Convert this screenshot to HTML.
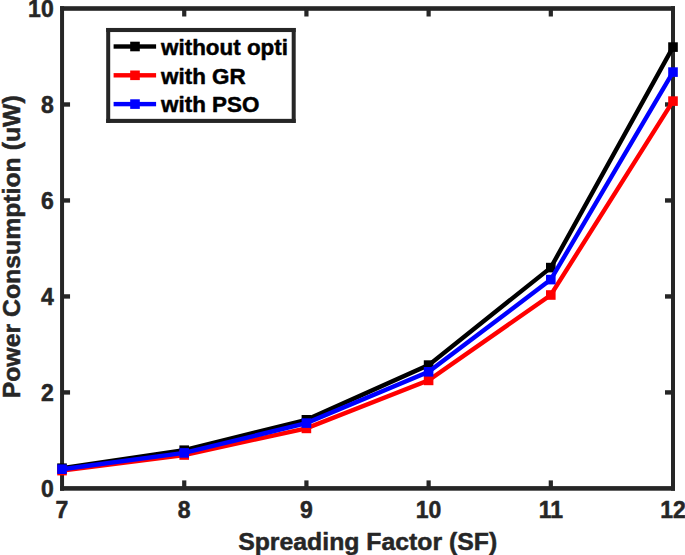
<!DOCTYPE html>
<html><head><meta charset="utf-8"><style>
html,body{margin:0;padding:0;background:#fff;}
body{width:685px;height:555px;overflow:hidden;}
svg{display:block;}
text{font-family:"Liberation Sans",sans-serif;font-weight:bold;fill:#262626;stroke:#262626;stroke-width:0.5px;stroke-linejoin:round;}
</style></head><body>
<svg width="685" height="555" viewBox="0 0 685 555">
<rect width="685" height="555" fill="#fff"/>
<rect x="60.05" y="486.10" width="614.95" height="4.6" fill="#262626"/>
<rect x="60.05" y="6.20" width="614.95" height="4.6" fill="#262626"/>
<rect x="60.05" y="6.20" width="4.0" height="484.50" fill="#262626"/>
<rect x="671.00" y="6.20" width="4.0" height="484.50" fill="#262626"/>
<text x="62.0" y="518.4" font-size="23.0" text-anchor="middle">7</text>
<rect x="182.14" y="480.40" width="4.2" height="8.00" fill="#262626"/>
<rect x="182.14" y="8.50" width="4.2" height="8.00" fill="#262626"/>
<text x="184.2" y="518.4" font-size="23.0" text-anchor="middle">8</text>
<rect x="304.33" y="480.40" width="4.2" height="8.00" fill="#262626"/>
<rect x="304.33" y="8.50" width="4.2" height="8.00" fill="#262626"/>
<text x="306.4" y="518.4" font-size="23.0" text-anchor="middle">9</text>
<rect x="426.52" y="480.40" width="4.2" height="8.00" fill="#262626"/>
<rect x="426.52" y="8.50" width="4.2" height="8.00" fill="#262626"/>
<text x="428.6" y="518.4" font-size="23.0" text-anchor="middle">10</text>
<rect x="548.71" y="480.40" width="4.2" height="8.00" fill="#262626"/>
<rect x="548.71" y="8.50" width="4.2" height="8.00" fill="#262626"/>
<text x="550.8" y="518.4" font-size="23.0" text-anchor="middle">11</text>
<text x="673.0" y="518.4" font-size="23.0" text-anchor="middle">12</text>
<text x="53.7" y="497.1" font-size="23.0" text-anchor="end">0</text>
<rect x="62.05" y="390.22" width="8.00" height="4.4" fill="#262626"/>
<rect x="665.00" y="390.22" width="8.00" height="4.4" fill="#262626"/>
<text x="53.7" y="401.1" font-size="23.0" text-anchor="end">2</text>
<rect x="62.05" y="294.24" width="8.00" height="4.4" fill="#262626"/>
<rect x="665.00" y="294.24" width="8.00" height="4.4" fill="#262626"/>
<text x="53.7" y="305.1" font-size="23.0" text-anchor="end">4</text>
<rect x="62.05" y="198.26" width="8.00" height="4.4" fill="#262626"/>
<rect x="665.00" y="198.26" width="8.00" height="4.4" fill="#262626"/>
<text x="53.7" y="209.2" font-size="23.0" text-anchor="end">6</text>
<rect x="62.05" y="102.28" width="8.00" height="4.4" fill="#262626"/>
<rect x="665.00" y="102.28" width="8.00" height="4.4" fill="#262626"/>
<text x="53.7" y="113.2" font-size="23.0" text-anchor="end">8</text>
<text x="53.7" y="17.2" font-size="23.0" text-anchor="end">10</text>
<polyline points="62.0,468.2 184.2,450.2 306.4,419.8 428.6,365.1 550.8,267.6 673.0,47.1" fill="none" stroke="#000000" stroke-width="4.4" stroke-linejoin="miter"/>
<rect x="57.2" y="463.4" width="9.6" height="9.6" fill="#000000"/>
<rect x="179.4" y="445.4" width="9.6" height="9.6" fill="#000000"/>
<rect x="301.6" y="415.0" width="9.6" height="9.6" fill="#000000"/>
<rect x="423.8" y="360.3" width="9.6" height="9.6" fill="#000000"/>
<rect x="546.0" y="262.8" width="9.6" height="9.6" fill="#000000"/>
<rect x="668.2" y="42.3" width="9.6" height="9.6" fill="#000000"/>
<polyline points="62.0,470.6 184.2,455.0 306.4,428.4 428.6,380.4 550.8,295.0 673.0,101.1" fill="none" stroke="#ff0000" stroke-width="4.4" stroke-linejoin="miter"/>
<rect x="57.2" y="465.8" width="9.6" height="9.6" fill="#ff0000"/>
<rect x="179.4" y="450.2" width="9.6" height="9.6" fill="#ff0000"/>
<rect x="301.6" y="423.6" width="9.6" height="9.6" fill="#ff0000"/>
<rect x="423.8" y="375.6" width="9.6" height="9.6" fill="#ff0000"/>
<rect x="546.0" y="290.2" width="9.6" height="9.6" fill="#ff0000"/>
<rect x="668.2" y="96.3" width="9.6" height="9.6" fill="#ff0000"/>
<polyline points="62.0,469.2 184.2,452.9 306.4,423.1 428.6,371.8 550.8,279.6 673.0,72.1" fill="none" stroke="#0000ff" stroke-width="4.4" stroke-linejoin="miter"/>
<rect x="57.2" y="464.4" width="9.6" height="9.6" fill="#0000ff"/>
<rect x="179.4" y="448.1" width="9.6" height="9.6" fill="#0000ff"/>
<rect x="301.6" y="418.3" width="9.6" height="9.6" fill="#0000ff"/>
<rect x="423.8" y="367.0" width="9.6" height="9.6" fill="#0000ff"/>
<rect x="546.0" y="274.8" width="9.6" height="9.6" fill="#0000ff"/>
<rect x="668.2" y="67.3" width="9.6" height="9.6" fill="#0000ff"/>
<text x="367.7" y="550" font-size="24.8" text-anchor="middle">Spreading Factor (SF)</text>
<text transform="translate(19.5,246.8) rotate(-90)" font-size="24.8" text-anchor="middle">Power Consumption (uW)</text>
<rect x="108.2" y="30.0" width="185.5" height="90.9" fill="#fff"/>
<rect x="106.20" y="27.95" width="189.50" height="4.1" fill="#262626"/>
<rect x="106.20" y="118.85" width="189.50" height="4.1" fill="#262626"/>
<rect x="106.20" y="28.00" width="4.0" height="94.90" fill="#262626"/>
<rect x="291.70" y="28.00" width="4.0" height="94.90" fill="#262626"/>
<rect x="113.60" y="44.30" width="42.50" height="4.4" fill="#000000"/>
<rect x="130.2" y="41.7" width="9.6" height="9.6" fill="#000000"/>
<text x="161.1" y="54.8" font-size="22.4" style="fill:#000;stroke:#000">without opti</text>
<rect x="113.60" y="73.10" width="42.50" height="4.4" fill="#ff0000"/>
<rect x="130.2" y="70.5" width="9.6" height="9.6" fill="#ff0000"/>
<text x="161.1" y="83.6" font-size="22.4" style="fill:#000;stroke:#000">with GR</text>
<rect x="113.60" y="101.90" width="42.50" height="4.4" fill="#0000ff"/>
<rect x="130.2" y="99.3" width="9.6" height="9.6" fill="#0000ff"/>
<text x="161.1" y="112.4" font-size="22.4" style="fill:#000;stroke:#000">with PSO</text>
</svg></body></html>
